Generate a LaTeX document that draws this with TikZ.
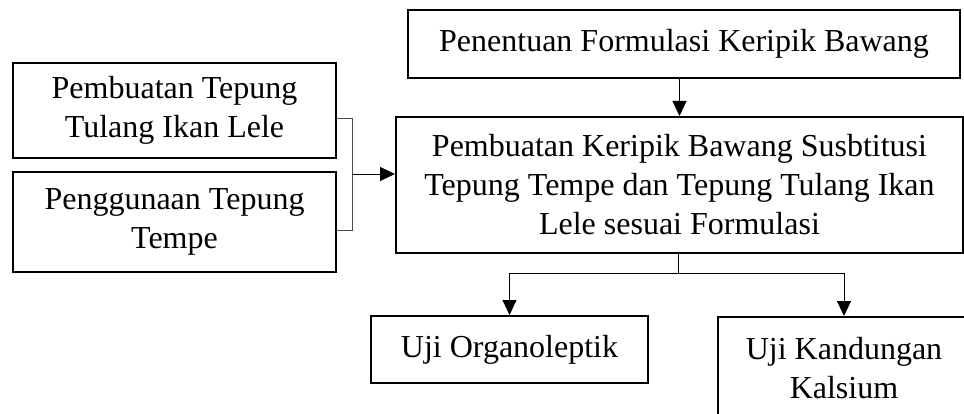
\documentclass[tikz,border=0pt]{standalone}
\usepackage{fontspec}
\setmainfont{Liberation Serif}
\usetikzlibrary{arrows.meta}

\begin{document}
\begin{tikzpicture}[
        x = 1pt, y = -1pt,
        box/.style = {draw, line width = 2pt, inner sep = 0pt, align = center,
            font = \fontsize{32}{39}\selectfont},
        link/.style = {line width = 0.9pt},
        arr/.style = {link, -{Triangle[length = 15pt, width = 14pt]}}
    ]
    \useasboundingbox (0, 0) rectangle (964, 414);
    \clip (0, 0) rectangle (964, 414);

    \draw
        (684, 44) node (formula) [box, minimum width = 552pt, minimum height = 68pt] {Penentuan Formulasi Keripik Bawang}
        (679.5, 185) node (process) [box, minimum width = 567pt, minimum height = 136pt] {Pembuatan Keripik Bawang Susbtitusi\\Tepung Tempe dan Tepung Tulang Ikan\\Lele sesuai Formulasi}
        (174.5, 110.5) node (tulang) [box, minimum width = 323pt, minimum height = 95pt] {Pembuatan Tepung\\Tulang Ikan Lele}
        (174.5, 222) node (tempe) [box, minimum width = 323pt, minimum height = 100pt] {Penggunaan Tepung\\Tempe}
        (509.5, 349.5) node (organo) [box, minimum width = 277pt, minimum height = 67pt] {Uji Organoleptik}
        (844, 368.5) node (kalsium) [box, minimum width = 252pt, minimum height = 103pt] {Uji Kandungan\\Kalsium}
    ;

    \coordinate (join) at (352, 174);
    \coordinate (split) at (678, 273);

    \draw[arr] (process.north |- formula.south) -- (process.north);
    \draw[link, black!70]
        ([yshift = -8pt] tulang.east) -| (join)
        ([yshift = -8pt] tempe.east) -| (join)
    ;
    \draw[arr] (join) -- (join -| process.west);
    \draw[link] (split |- process.south) -- (split);
    \draw[arr] (split) -| (organo.north);
    \draw[arr] (split) -| (kalsium.north);
\end{tikzpicture}
\end{document}
